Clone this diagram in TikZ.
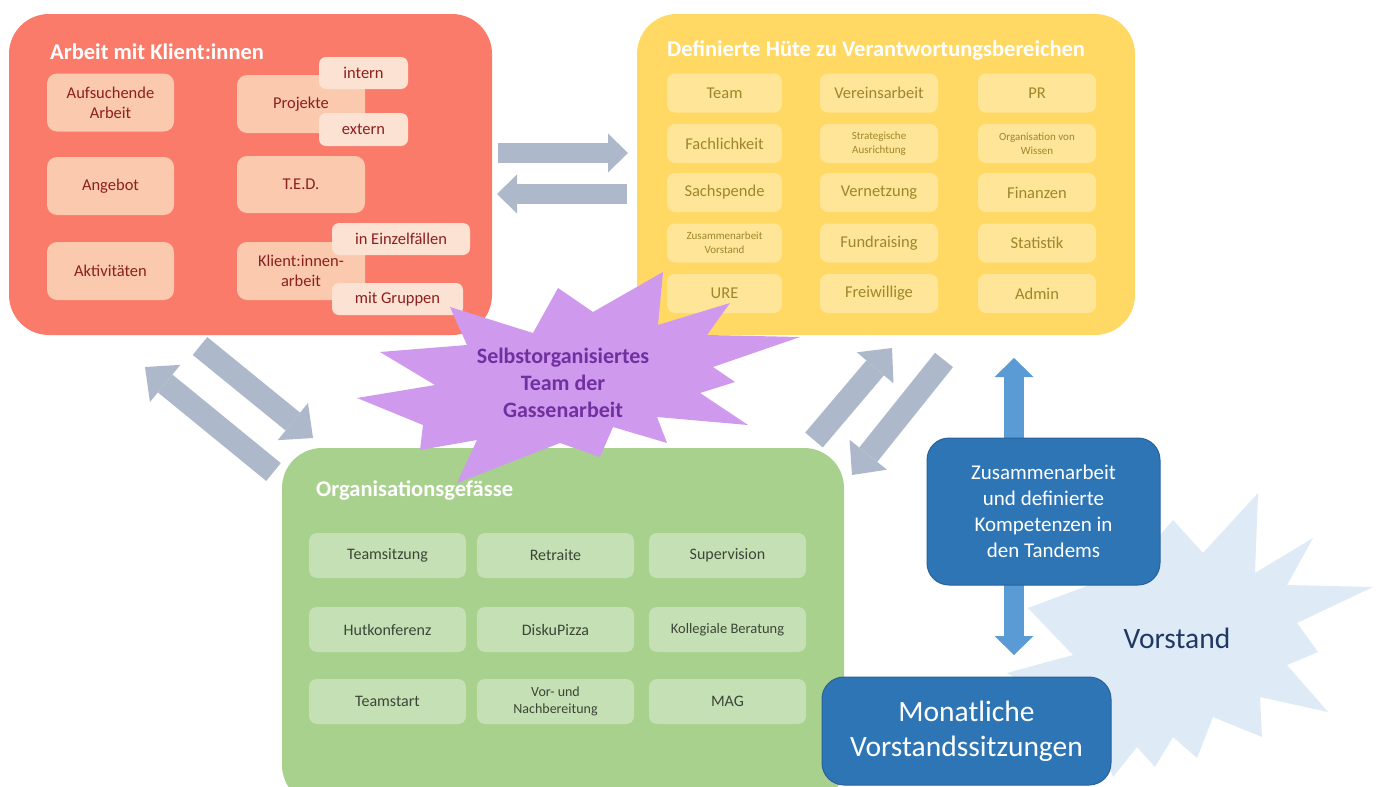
\documentclass[tikz,border=0pt]{standalone}
\usepackage{fontspec}
\setmainfont{Carlito}
\usetikzlibrary{arrows.meta}
\definecolor{redmain}{HTML}{FB7B6B}
\definecolor{redin}{HTML}{FAC9AE}
\definecolor{redsub}{HTML}{FCE2D3}
\definecolor{redtxt}{HTML}{8C1F1F}
\definecolor{yelmain}{HTML}{FFD964}
\definecolor{yelin}{HTML}{FFE597}
\definecolor{yeltxt}{HTML}{9C872C}
\definecolor{grnmain}{HTML}{A9D18E}
\definecolor{grnin}{HTML}{C5E0B4}
\definecolor{grntxt}{HTML}{3C4638}
\definecolor{purp}{HTML}{CF9AEE}
\definecolor{purptxt}{HTML}{7030A0}
\definecolor{grayarr}{HTML}{ADB9CA}
\definecolor{bluearr}{HTML}{5B9BD5}
\definecolor{bluebox}{HTML}{2E75B6}
\definecolor{blueedge}{HTML}{2A6299}
\definecolor{vstar}{HTML}{DEEBF7}
\definecolor{vtxt}{HTML}{1F3864}
\newcommand\fsz[2]{\fontsize{#1}{#2}\selectfont}
\begin{document}
\begin{tikzpicture}[x=1pt,y=-1pt,
  bigbox/.style={fill=#1, draw=none, rounded corners=40pt, inner sep=0pt},
  ttl/.style={anchor=west, text=white, font=\bfseries\fsz{22.5}{26}, inner sep=0pt},
  rbox/.style={fill=redin, rounded corners=10pt, inner sep=0pt, align=center, text=redtxt, font=\fsz{16.5}{20}},
  rsub/.style={fill=redsub, rounded corners=7pt, inner sep=0pt, align=center, text=redtxt, font=\fsz{16.5}{20}},
  ybox/.style={fill=yelin, rounded corners=8pt, inner sep=0pt, align=center, text=yeltxt, minimum height=39pt, font=\fsz{16.5}{20}},
  ysmall/.style={ybox, font=\fsz{11}{14}},
  gbox/.style={fill=grnin, rounded corners=8pt, inner sep=0pt, align=center, text=grntxt, minimum width=157pt, minimum height=45pt, font=\fsz{16}{19}},
  fatarrow/.style={draw=grayarr, line width=23pt, -{Triangle[width=48pt,length=26pt,line width=0pt]}},
  flatarrow/.style={draw=grayarr, line width=20pt, -{Triangle[width=39pt,length=20pt,line width=0pt]}},
  bluebx/.style={fill=bluebox, draw=blueedge, line width=1pt, rounded corners=22pt, inner sep=0pt, align=center, text=white}
]
\useasboundingbox (0,0) rectangle (1379,787);
\clip (0,0) rectangle (1379,787);
\fill[white] (0,0) rectangle (1379,787);

% ---------- red box ----------
\node[bigbox=redmain, minimum width=483pt, minimum height=321pt] (red) at (250.5,174.5) {};
\node[ttl] (redt) at (50,52) {Arbeit mit Klient:innen};
\node[rbox, minimum width=127pt, minimum height=58pt] (auf) at (110.5,102.5) {Aufsuchende\\Arbeit};
\node[rbox, minimum width=127pt, minimum height=58pt] (ang) at (110.5,186) {Angebot};
\node[rbox, minimum width=127pt, minimum height=58pt] (akt) at (110.5,271) {Aktivitäten};
\node[rbox, minimum width=128pt, minimum height=58pt] (proj) at (301,104) {Projekte};
\node[rbox, minimum width=128pt, minimum height=57pt] (ted) at (301,184.5) {T.E.D.};
\node[rbox, minimum width=128pt, minimum height=58pt] (kli) at (301,271) {Klient:innen-\\arbeit};
\node[rsub, minimum width=89pt, minimum height=32pt] (intern) at (363.5,73) {intern};
\node[rsub, minimum width=89pt, minimum height=33pt] (extern) at (363.5,129.5) {extern};
\node[rsub, minimum width=138pt, minimum height=32pt] (einz) at (401,239) {in Einzelfällen};
\node[rsub, minimum width=131pt, minimum height=32pt] (grp) at (397.5,299) {mit Gruppen};

% ---------- yellow box ----------
\node[bigbox=yelmain, minimum width=498pt, minimum height=321pt] (yel) at (886,174.5) {};
\node[ttl] (yelt) at (667,50) {Definierte Hüte zu Verantwortungsbereichen};
\node[ybox, minimum width=115pt] (y11) at (724.5,93) {Team};
\node[ybox, minimum width=118pt] (y12) at (879,93) {Vereinsarbeit};
\node[ybox, minimum width=118pt] (y13) at (1037,93) {PR};
\node[ybox, minimum width=115pt] (y21) at (724.5,143.5) {Fachlichkeit};
\node[ysmall, minimum width=118pt] (y22) at (879,143.5) {Strategische\\Ausrichtung};
\node[ysmall, minimum width=118pt] (y23) at (1037,143.5) {Organisation von\\Wissen};
\node[ybox, minimum width=115pt] (y31) at (724.5,192.5) {Sachspende};
\node[ybox, minimum width=118pt] (y32) at (879,192.5) {Vernetzung};
\node[ybox, minimum width=118pt] (y33) at (1037,192.5) {Finanzen};
\node[ysmall, minimum width=115pt] (y41) at (724.5,243) {Zusammenarbeit\\Vorstand};
\node[ybox, minimum width=118pt] (y42) at (879,243) {Fundraising};
\node[ybox, minimum width=118pt] (y43) at (1037,243) {Statistik};
\node[ybox, minimum width=115pt] (y51) at (724.5,293.5) {URE};
\node[ybox, minimum width=118pt] (y52) at (879,293.5) {Freiwillige};
\node[ybox, minimum width=118pt] (y53) at (1037,293.5) {Admin};

% ---------- gray arrows ----------
\coordinate (rA) at (498,153);  \coordinate (yA) at (628,153);
\coordinate (yB) at (627,194);  \coordinate (rB) at (497,194);
\coordinate (rC) at (200,346);  \coordinate (gC) at (313,438);
\coordinate (gD) at (273.5,472);\coordinate (rD) at (145,367);
\coordinate (gE) at (814,440);  \coordinate (yE) at (892,348);
\coordinate (yF) at (944,360);  \coordinate (gF) at (852,475);
\draw[flatarrow] (rA) -- (yA);
\draw[flatarrow] (yB) -- (rB);
\draw[fatarrow] (rC) -- (gC);
\draw[fatarrow] (gD) -- (rD);
\draw[fatarrow] (gE) -- (yE);
\draw[fatarrow] (yF) -- (gF);

% ---------- green box ----------
\node[bigbox=grnmain, minimum width=562pt, minimum height=357pt] (grn) at (563,626.5) {};
\node[gbox] (g11) at (387.5,555.5) {Teamsitzung};
\node[gbox] (g12) at (555.5,555.5) {Retraite};
\node[gbox] (g13) at (727.5,555.5) {Supervision};
\node[gbox] (g21) at (387.5,629.5) {Hutkonferenz};
\node[gbox] (g22) at (555.5,629.5) {DiskuPizza};
\node[gbox, font=\fsz{14.5}{18}] (g23) at (727.5,629.5) {Kollegiale Beratung};
\node[gbox] (g31) at (387.5,701.5) {Teamstart};
\node[gbox, font=\fsz{14}{17}] (g32) at (555.5,701.5) {Vor- und\\Nachbereitung};
\node[gbox] (g33) at (727.5,701.5) {MAG};

% ---------- purple star ----------
\fill[purp] (450,307) -- (533,333) -- (558,288) -- (593,312) -- (663,272) -- (658,325)
  -- (730,303) -- (707,335) -- (800,337) -- (713,367) -- (735,382) -- (700,393)
  -- (748,425) -- (657,417) -- (667,443) -- (613,427) -- (600,457) -- (560,443)
  -- (457,483) -- (477,440) -- (420,450) -- (423,425) -- (357,398) -- (435,385)
  -- (380,352) -- (467,345) -- cycle;
\node[text=purptxt, font=\bfseries\fsz{22}{27}, align=center, inner sep=0pt] (team) at (563,383) {Selbstorganisiertes\\Team der\\Gassenarbeit};
\node[ttl] (grnt) at (316,490) {Organisationsgefässe};

% ---------- Vorstand ----------
\fill[vstar] (1258,493) -- (1255,573) -- (1313,538) -- (1287,585) -- (1373,587)
  -- (1297,623) -- (1318,652) -- (1287,665) -- (1328,712) -- (1260,697) -- (1262,737)
  -- (1213,717) -- (1197,758) -- (1173,737) -- (1155,767) -- (1137,747) -- (1113,777)
  -- (1095,725) -- (1007,673) -- (1073,655) -- (1028,608) -- (1130,570) -- (1173,520)
  -- (1203,553) -- cycle;
\node[text=vtxt, font=\fsz{29.5}{35}, inner sep=0pt] (vor) at (1177,638) {Vorstand};

\coordinate (bTop) at (1014,358);
\coordinate (bBot) at (1014,655);
\draw[draw=bluearr, line width=20pt, {Triangle[width=39pt,length=19pt,line width=0pt]}-{Triangle[width=39pt,length=19pt,line width=0pt]}] (bTop) -- (bBot);

\node[bluebx, minimum width=233pt, minimum height=147pt, font=\fsz{21}{26}] (tand) at (1043.5,511.5) {Zusammenarbeit\\und definierte\\Kompetenzen in\\den Tandems};
\node[bluebx, minimum width=289pt, minimum height=108pt, font=\fsz{29.5}{35}] (mon) at (966.5,731) {Monatliche\\Vorstandssitzungen};
\end{tikzpicture}
\end{document}
